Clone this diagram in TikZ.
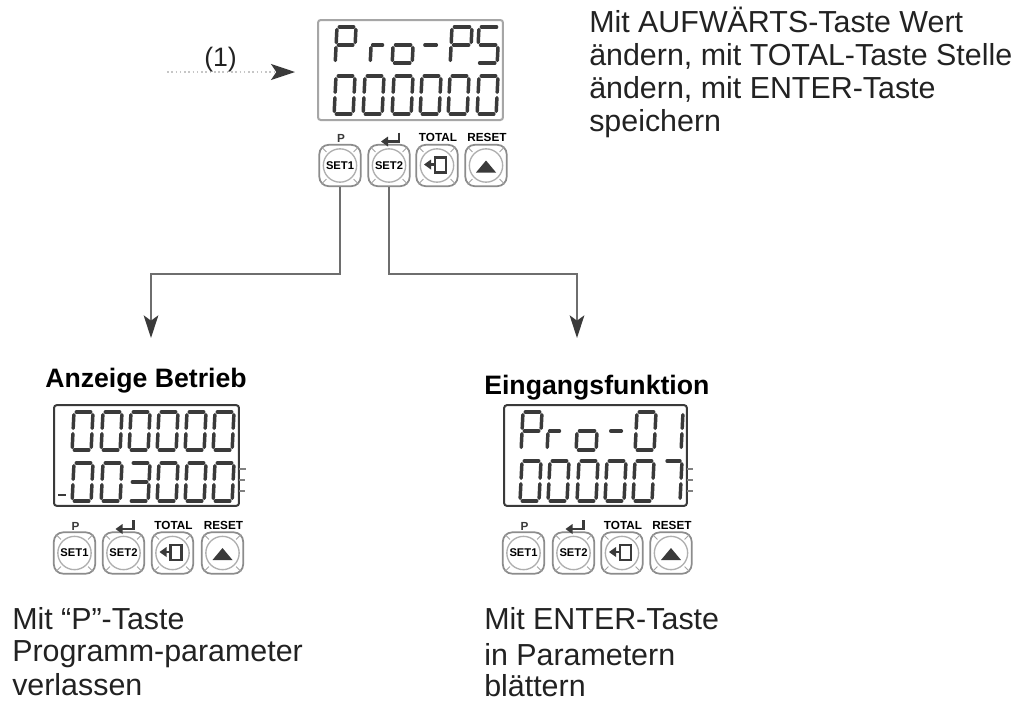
\documentclass[tikz,border=0pt]{standalone}
\usepackage{fontspec}
\setmainfont{Liberation Sans}
\usetikzlibrary{arrows.meta}
\definecolor{lcdink}{HTML}{3A3A3A}
\definecolor{btngray}{HTML}{8C8C8C}
\definecolor{txtink}{HTML}{222222}
\definecolor{connink}{HTML}{6E6E6E}
\tikzset{
  segline/.style={draw=lcdink,line width=2.6pt,line cap=round},
  lcdbox/.style={draw=#1,line width=1.5pt,rounded corners=2pt,fill=white},
  btnbox/.style={draw=btngray,line width=1.3pt,rounded corners=7pt,minimum width=31pt,minimum height=31pt,inner sep=0pt,fill=white},
  btncirc/.style={circle,draw=btngray!70,line width=1pt,minimum size=25pt,inner sep=0pt,font=\bfseries\fontsize{8.4}{8.4}\selectfont,text=black},
  keylabel/.style={font=\bfseries\fontsize{8.8}{9}\selectfont,text=black,inner sep=0pt},
  conn/.style={draw=connink,line width=1pt,-{Stealth[length=17pt,width=11pt,inset=4pt,color=lcdink]}},
  dotconn/.style={draw=gray!45,line width=1.2pt,dotted,-{Stealth[length=18pt,width=12pt,inset=4pt,color=lcdink]}},
  body/.style={anchor=north west,inner sep=0pt,align=left,text=txtink,font=\fontsize{22.8}{24.75}\selectfont},
  head/.style={anchor=base west,inner sep=0pt,text=black,font=\bfseries\fontsize{20}{22}\selectfont}
}
\def\sgA{(.12,0)--(.88,0)}
\def\sgB{(1,.07)--(1,.43)}
\def\sgC{(1,.57)--(1,.93)}
\def\sgD{(.12,1)--(.88,1)}
\def\sgE{(0,.57)--(0,.93)}
\def\sgF{(0,.07)--(0,.43)}
\def\sgG{(.12,.5)--(.88,.5)}
\def\dZero{\sgA,\sgB,\sgC,\sgD,\sgE,\sgF}
\def\dThree{\sgA,\sgB,\sgC,\sgD,\sgG}
\def\dSeven{\sgA,\sgB,\sgC}
\def\dP{\sgA,\sgB,\sgE,\sgF,\sgG}
\def\dS{\sgA,\sgC,\sgD,\sgF,\sgG}
\def\dO{\sgC,\sgD,\sgE,\sgG}
\def\dR{\sgE,\sgG}
\def\dDash{\sgG}
\def\dOne{\sgB,\sgC}
% x y width height segments
\newcommand\sevseg[5]{%
  \begin{scope}[shift={(#1,#2)},xslant=.05,x=#3*0.75pt,y=-#4*0.75pt]
    \foreach \s in #5 {\draw[segline] \s;}
  \end{scope}}
% prefix, y centre, four x centres
\newcommand\keyrow[6]{%
  \node[btnbox] (#1a) at (#3,#2) {};
  \node[btncirc] (#1ac) at (#3,#2) {SET1};
  \node[btnbox] (#1b) at (#4,#2) {};
  \node[btncirc] (#1bc) at (#4,#2) {SET2};
  \node[btnbox] (#1c) at (#5,#2) {};
  \node[btncirc] (#1cc) at (#5,#2) {};
  \node[btnbox] (#1d) at (#6,#2) {};
  \node[btncirc] (#1dc) at (#6,#2) {};
  \foreach \k in {a,b,c,d}{
    \draw[btngray!80,line width=.6pt] (#1\k.north west)++(3,3)--++(5,5) (#1\k.north east)++(-3,3)--++(-5,5)
      (#1\k.south west)++(3,-3)--++(5,-5) (#1\k.south east)++(-3,-3)--++(-5,-5);
  }
  \node[keylabel,text=lcdink] (#1p) at (#3+1,#2-27) {P};
  \draw[lcdink,line width=2.2pt] (#4+10,#2-33)--(#4+10,#2-24)--(#4-3,#2-24);
  \fill[lcdink] (#4-8,#2-24)--(#4-1,#2-29)--(#4-1,#2-19)--cycle;
  \node[keylabel] (#1t) at (#5+1,#2-28) {TOTAL};
  \node[keylabel] (#1r) at (#6+1,#2-28) {RESET};
  \draw[lcdink,line width=1.7pt] (#5-2,#2-8) rectangle (#5+9,#2+7);
  \draw[lcdink,line width=1.8pt] (#5-9,#2-1)--(#5-1,#2-1);
  \fill[lcdink] (#5-13,#2-1)--(#5-6,#2-6)--(#5-6,#2+4)--cycle;
  \fill[lcdink] (#6,#2-5)--(#6+10,#2+7)--(#6-10,#2+7)--cycle;
}
\begin{document}
\begin{tikzpicture}[x=0.75pt,y=-0.75pt]
\useasboundingbox (0,0) rectangle (1020,701);
\fill[white] (0,0) rectangle (1020,701);

% --- top panel
\node[lcdbox=gray!70,minimum width=138.7pt,minimum height=75pt,inner sep=0pt] (lcdtop) at (410.5,70) {};
\sevseg{337}{27}{19}{36}{\dP}
\sevseg{372}{27}{13}{36}{\dR}
\sevseg{394}{27}{20}{36}{\dO}
\sevseg{424}{27}{15}{36}{\dDash}
\sevseg{452}{27}{20}{36}{\dP}
\sevseg{479}{27}{20}{36}{\dS}
\sevseg{336}{76}{19}{38}{\dZero}
\sevseg{365}{76}{19}{38}{\dZero}
\sevseg{394}{76}{19}{38}{\dZero}
\sevseg{422}{76}{19}{38}{\dZero}
\sevseg{450}{76}{19}{38}{\dZero}
\sevseg{479}{76}{19}{38}{\dZero}
\keyrow{t}{165.5}{340}{389}{437}{486}

% --- bottom left panel
\node[lcdbox=lcdink,minimum width=138.7pt,minimum height=75.5pt,inner sep=0pt] (lcdleft) at (146.5,455.5) {};
\sevseg{74}{412}{19}{38}{\dZero}
\sevseg{103}{412}{19}{38}{\dZero}
\sevseg{131}{412}{19}{38}{\dZero}
\sevseg{159}{412}{19}{38}{\dZero}
\sevseg{187}{412}{19}{38}{\dZero}
\sevseg{215}{412}{19}{38}{\dZero}
\sevseg{74}{463}{19}{38}{\dZero}
\sevseg{103}{463}{19}{38}{\dZero}
\sevseg{131}{463}{19}{38}{\dThree}
\sevseg{159}{463}{19}{38}{\dZero}
\sevseg{187}{463}{19}{38}{\dZero}
\sevseg{215}{463}{19}{38}{\dZero}
\draw[lcdink,line width=2pt] (58,495)--(66,495);
\draw[gray,line width=.8pt] (239,469)--(246,469) (239,480)--(245,480) (239,491)--(245,491);
\keyrow{l}{553}{74.5}{123.5}{172.5}{222.5}

% --- bottom right panel
\node[lcdbox=lcdink,minimum width=137pt,minimum height=75.5pt,inner sep=0pt] (lcdright) at (595.5,455.5) {};
\sevseg{523}{412}{19}{38}{\dP}
\sevseg{549}{412}{13}{38}{\dR}
\sevseg{578}{412}{20}{38}{\dO}
\sevseg{610}{412}{14}{38}{\dDash}
\sevseg{637}{412}{19}{38}{\dZero}
\sevseg{666}{412}{17}{38}{\dOne}
\sevseg{522}{461}{19}{40}{\dZero}
\sevseg{550}{461}{19}{40}{\dZero}
\sevseg{579}{461}{19}{40}{\dZero}
\sevseg{607}{461}{19}{40}{\dZero}
\sevseg{635}{461}{19}{40}{\dZero}
\sevseg{665}{461}{17}{40}{\dSeven}
\draw[gray,line width=.8pt] (687,469)--(693,469) (687,480)--(693,480) (687,491)--(693,491);
\keyrow{r}{553}{523.5}{573.5}{622}{671}

% --- connectors
\coordinate (lbend) at (151,274);
\coordinate (ltip) at (151,338);
\coordinate (rbend) at (577,274);
\coordinate (rtip) at (577,338);
\coordinate (dstart) at (167,72);
\coordinate (dtip) at (295,72);
\draw[conn] (ta.south) |- (lbend) -- (ltip);
\draw[conn] (tb.south) |- (rbend) -- (rtip);
\draw[dotconn] (dstart) -- (dtip);

% --- texts
\node[anchor=base west,inner sep=0pt,text=txtink,font=\fontsize{20}{22}\selectfont] (one) at (204,66) {(1)};
\node[body] (topnote) at (589,6.5) {Mit AUFWÄRTS-Taste Wert\\ändern, mit TOTAL-Taste Stelle\\ändern, mit ENTER-Taste\\speichern};
\node[head] (headl) at (45,387) {Anzeige Betrieb};
\node[head] (headr) at (484,394) {Eingangsfunktion};
\node[body] (notel) at (12,607) {Mit “P”-Taste\\[-.75pt]Programm-parameter\\[.75pt]verlassen};
\node[body] (noter) at (484,607) {Mit ENTER-Taste\\[2.25pt]in Parametern\\[-1.5pt]blättern};
\end{tikzpicture}
\end{document}
